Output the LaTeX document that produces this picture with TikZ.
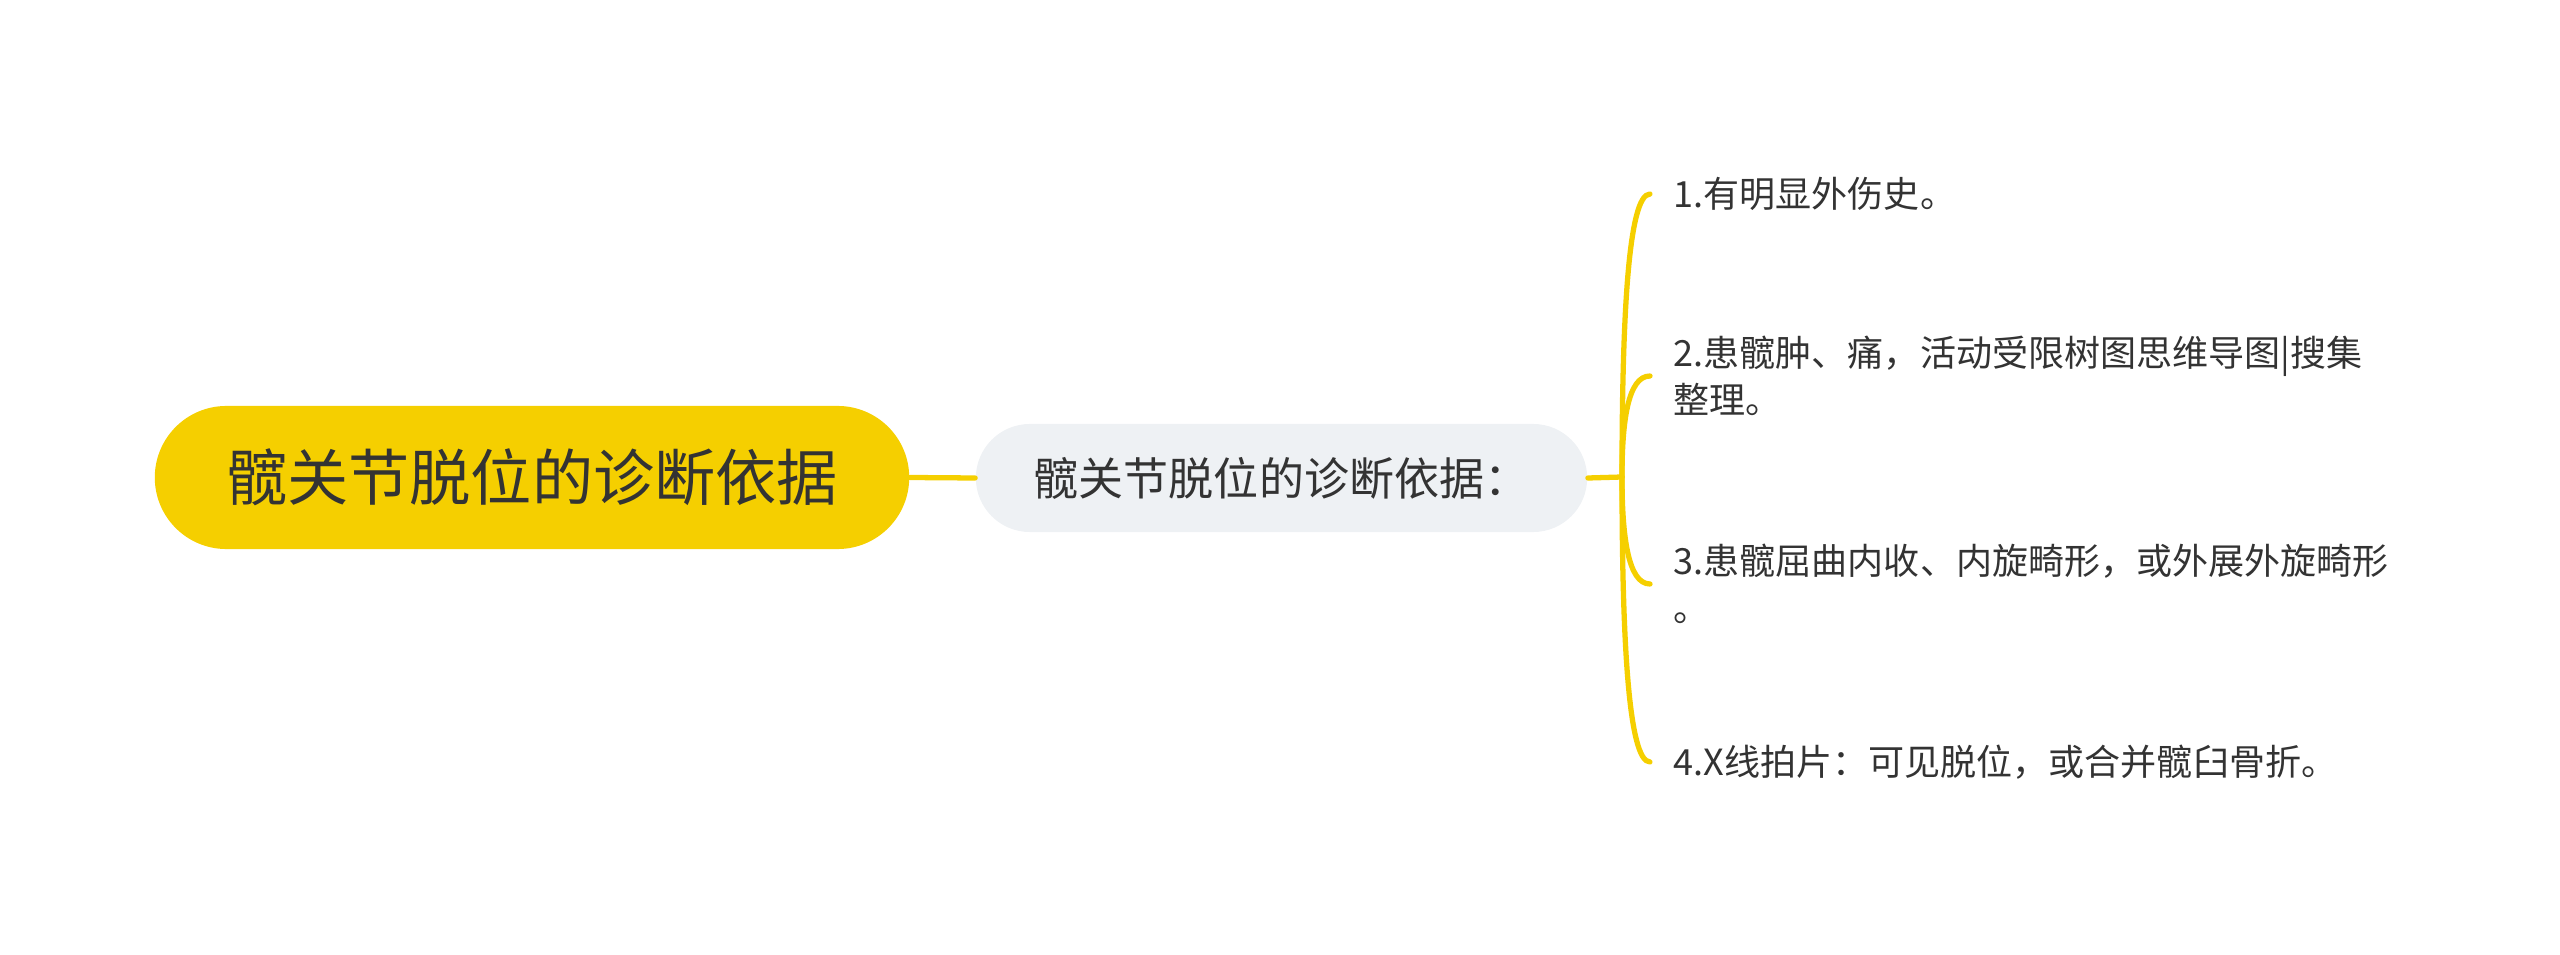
\documentclass[tikz,border=0pt]{standalone}
\usepackage{fontspec}
\newfontfamily\cjk{Noto Sans CJK SC}
\usetikzlibrary{calc}
\definecolor{myyellow}{HTML}{F5CF00}
\definecolor{midfill}{HTML}{EEF1F4}
\definecolor{txt}{HTML}{333333}
\begin{document}
\begin{tikzpicture}[x=0.01cm,y=-0.01cm,
  rootbox/.style={fill=myyellow, rounded corners=0.715cm, minimum width=7.54cm, minimum height=1.43cm, inner sep=0pt, text=txt, font=\cjk\fontsize{17.4pt}{20pt}\selectfont},
  midbox/.style={fill=midfill, rounded corners=0.54cm, minimum width=6.11cm, minimum height=1.08cm, inner sep=0pt, text=txt, font=\cjk\fontsize{12.8pt}{15pt}\selectfont},
  leaf/.style={anchor=west, align=left, inner xsep=0.23cm, inner ysep=0pt, text=txt, font=\cjk\fontsize{10.25pt}{13.4pt}\selectfont},
  link/.style={draw=myyellow, line width=1.5pt, line cap=round}]
\useasboundingbox (0,0) rectangle (2560,955);
\node[rootbox] (root) at (532,477.5) {髋关节脱位的诊断依据};
\node[midbox] (mid) at (1281.5,478) {髋关节脱位的诊断依据：};
\coordinate (j) at (1622,477);
\node[leaf] (l1) at (1650,194) {1.有明显外伤史。};
\node[leaf] (l2) at (1650,376) {2.患髋肿、痛，活动受限树图思维导图|搜集\\整理。};
\node[leaf] (l3) at (1650,584) {3.患髋屈曲内收、内旋畸形，或外展外旋畸形\\。};
\node[leaf] (l4) at (1650,762) {4.X线拍片：可见脱位，或合并髋臼骨折。};
\draw[link] (root.east) -- (mid.west);
\draw[link] (mid.east) -- (j);
\draw[link] (j) .. controls (1622,321) and ([xshift=-0.22cm]l1.west) .. (l1.west);
\draw[link] (j) .. controls (1622,421) and ([xshift=-0.22cm]l2.west) .. (l2.west);
\draw[link] (j) .. controls (1622,536) and ([xshift=-0.22cm]l3.west) .. (l3.west);
\draw[link] (j) .. controls (1622,634) and ([xshift=-0.22cm]l4.west) .. (l4.west);
\end{tikzpicture}
\end{document}
